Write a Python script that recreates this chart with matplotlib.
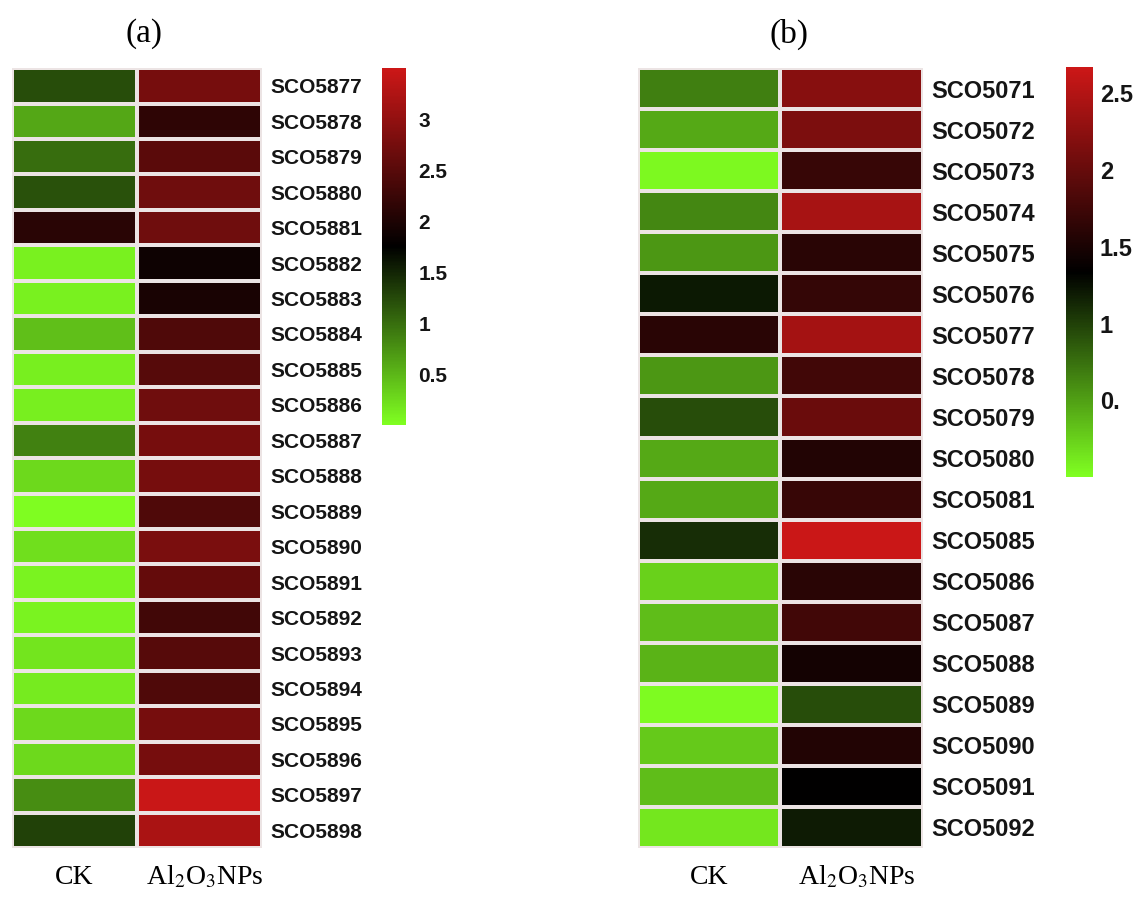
import numpy as np
import matplotlib.pyplot as plt
from matplotlib.colors import LinearSegmentedColormap

plt.rcParams['mathtext.fontset'] = 'stix'

genes_a = ["SCO5877", "SCO5878", "SCO5879", "SCO5880", "SCO5881", "SCO5882",
           "SCO5883", "SCO5884", "SCO5885", "SCO5886", "SCO5887", "SCO5888",
           "SCO5889", "SCO5890", "SCO5891", "SCO5892", "SCO5893", "SCO5894",
           "SCO5895", "SCO5896", "SCO5897", "SCO5898"]
ck_a = [1.22, 0.61, 1.0, 1.19, 2.1, 0.1, 0.1, 0.44, 0.12, 0.12, 0.87, 0.26,
        0.02, 0.23, 0.09, 0.09, 0.18, 0.14, 0.26, 0.26, 0.79, 1.31]
np_a = [2.75, 2.14, 2.52, 2.7, 2.7, 1.87, 1.96, 2.43, 2.48, 2.7, 2.75, 2.75,
        2.43, 2.8, 2.6, 2.3, 2.48, 2.43, 2.75, 2.75, 3.47, 3.2]

genes_b = ["SCO5071", "SCO5072", "SCO5073", "SCO5074", "SCO5075", "SCO5076",
           "SCO5077", "SCO5078", "SCO5079", "SCO5080", "SCO5081", "SCO5085",
           "SCO5086", "SCO5087", "SCO5088", "SCO5089", "SCO5090", "SCO5091",
           "SCO5092"]
ck_b = [0.67, 0.45, 0.04, 0.63, 0.55, 1.2, 1.6, 0.55, 0.93, 0.45, 0.45, 1.1,
        0.24, 0.35, 0.4, 0.03, 0.29, 0.35, 0.13]
np_b = [2.22, 2.14, 1.7, 2.43, 1.6, 1.67, 2.4, 1.76, 2.03, 1.56, 1.7, 2.65,
        1.6, 1.76, 1.47, 0.93, 1.56, 1.34, 1.19]

ticks_a = [0.5, 1, 1.5, 2, 2.5, 3]
tick_labels_a = ["0.5", "1", "1.5", "2", "2.5", "3"]
ticks_b = [0.5, 1, 1.5, 2, 2.5]
tick_labels_b = ["0.", "1", "1.5", "2", "2.5"]

cmap = LinearSegmentedColormap.from_list(
    "gbr", [(0.50, 1.0, 0.13), (0, 0, 0), (0.80, 0.09, 0.09)])

fig = plt.figure(figsize=(11.43, 8.97), dpi=100)


def panel(rect, cbrect, genes, ck, npv, vmax, ticks, tlabels, title, fs, cbpad):
    ax = fig.add_axes(rect)
    data = np.column_stack([ck, npv])
    mesh = ax.pcolormesh(data, cmap=cmap, vmin=0, vmax=vmax,
                         edgecolors="#ece4e4", linewidth=1.6)
    ax.set_ylim(len(genes), 0)
    ax.set_xlim(0, 2)
    ax.set_xticks([])
    ax.yaxis.tick_right()
    ax.set_yticks(np.arange(len(genes)) + 0.5)
    ax.set_yticklabels(genes, fontsize=fs, fontweight="bold",
                       family="Liberation Sans", color="#151515")
    ax.tick_params(axis="y", length=0, pad=6)
    for s in ax.spines.values():
        s.set_visible(False)

    # column labels under the heatmap
    x0, w = rect[0], rect[2]
    fig.text(x0 + 0.25 * w, 0.022, "CK", ha="center", va="center",
             fontsize=20, family="Liberation Serif")
    fig.text(x0 + 0.77 * w, 0.022, r"Al$_2$O$_3$NPs", ha="center",
             va="center", fontsize=20, family="Liberation Serif")
    fig.text(x0 + 0.53 * w, 0.962, title, ha="center", va="center",
             fontsize=24, family="Liberation Serif")

    cax = fig.add_axes(cbrect)
    cb = fig.colorbar(mesh, cax=cax)
    cb.outline.set_visible(False)
    cb.set_ticks(ticks)
    cb.set_ticklabels(tlabels)
    cax.tick_params(length=0, pad=cbpad)
    for lab in cax.get_yticklabels():
        lab.set_fontsize(fs)
        lab.set_fontweight("bold")
        lab.set_family("Liberation Sans")
        lab.set_color("#151515")


panel([0.0105, 0.0546, 0.2187, 0.8695], [0.334, 0.526, 0.021, 0.398],
      genes_a, ck_a, np_a, 3.5, ticks_a, tick_labels_a, "(a)", 15, 9)
panel([0.558, 0.0546, 0.2493, 0.8695], [0.9326, 0.468, 0.0236, 0.457],
      genes_b, ck_b, np_b, 2.67, ticks_b, tick_labels_b, "(b)", 17, 5)

fig.savefig("out.png", dpi=100)
